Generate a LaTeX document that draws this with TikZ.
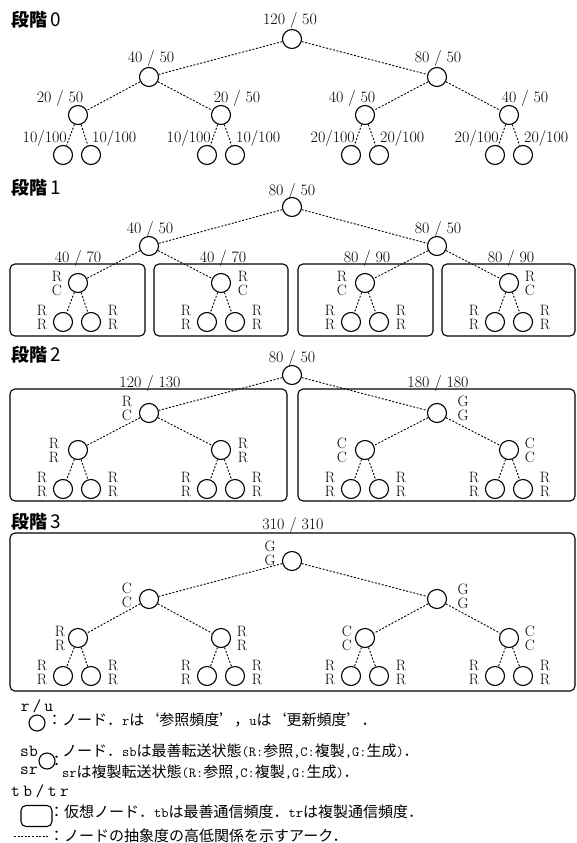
\documentclass[tikz,border=0pt]{standalone}
\usepackage{fontspec}
\newfontfamily\jp{Noto Sans CJK JP}
\newfontfamily\jpq{Noto Sans CJK JP}[CharacterWidth=Full]
\newcommand\tts[1]{{\ttfamily\fontsize{14}{14}\selectfont #1}}
\newcommand\myLq{{\jpq ‘}}
\newcommand\myRq{{\jpq ’}}
\newcommand\mytree[5]{%
\node[nd] (#1r) at (292,#2) {};
\node[nd] (#1a) at (149,#3) {};
\node[nd] (#1b) at (437,#3) {};
\node[nd] (#1aa) at (78,#4) {};
\node[nd] (#1ab) at (221,#4) {};
\node[nd] (#1ba) at (365,#4) {};
\node[nd] (#1bb) at (509,#4) {};
\node[nd] (#1aaa) at (63,#5) {};
\node[nd] (#1aab) at (91,#5) {};
\node[nd] (#1aba) at (207,#5) {};
\node[nd] (#1abb) at (235,#5) {};
\node[nd] (#1baa) at (351,#5) {};
\node[nd] (#1bab) at (379,#5) {};
\node[nd] (#1bba) at (495,#5) {};
\node[nd] (#1bbb) at (523,#5) {};
\foreach \p/\c in {r/a,r/b,a/aa,a/ab,b/ba,b/bb,aa/aaa,aa/aab,ab/aba,ab/abb,ba/baa,ba/bab,bb/bba,bb/bbb}{\draw[ar] (#1\p) -- (#1\c);}
}
\newcommand\leaflabs[3]{%
\foreach \x [count=\i] in {42,113,186,257,330,401,474,545}{\node[sl] (#1l\i) at (\x,#2) {#3};}
}
\newcommand\stitle[1]{{\bfseries 段階}\hspace{3pt}{\fontsize{19}{19}\selectfont #1}}
\begin{document}
\begin{tikzpicture}[x=1pt,y=-1pt,
  nd/.style={circle,draw,line width=1.1pt,minimum size=19pt,inner sep=0pt},
  ar/.style={line width=0.9pt,dash pattern=on 2pt off 1.6pt},
  vbox/.style={draw,line width=1.1pt,rounded corners=5pt,inner sep=0pt},
  num/.style={font=\fontsize{16}{16}\selectfont,inner sep=0pt},
  sl/.style={font=\fontsize{15}{14}\selectfont,align=center,inner sep=0pt},
  ttl/.style={font=\jp\fontsize{18}{18}\selectfont,anchor=west,inner sep=0pt},
  lg/.style={font=\jp\fontsize{15}{15}\selectfont,anchor=west,inner sep=0pt},
  ttl15/.style={font=\ttfamily\fontsize{17}{17}\selectfont,inner sep=0pt},
]
\useasboundingbox (0,0) rectangle (576,843);

% ---------------- Stage 0
\node[ttl] (t0) at (11,20) {\stitle{0}};
\mytree{s0}{39}{77}{115}{155}
\node[num] (s0nr) at (290,21) {120 / 50};
\node[num] (s0na) at (151,59) {40 / 50};
\node[num] (s0nb) at (438,59) {80 / 50};
\node[num] (s0naa) at (60,98) {20 / 50};
\node[num] (s0nab) at (237,98) {20 / 50};
\node[num] (s0nba) at (352,98) {40 / 50};
\node[num] (s0nbb) at (525,98) {40 / 50};
\node[num,anchor=east] (s0n1) at (67,138) {10/100};
\node[num,anchor=west] (s0n2) at (92,138) {10/100};
\node[num,anchor=east] (s0n3) at (211,138) {10/100};
\node[num,anchor=west] (s0n4) at (236,138) {10/100};
\node[num,anchor=east] (s0n5) at (355,138) {20/100};
\node[num,anchor=west] (s0n6) at (380,138) {20/100};
\node[num,anchor=east] (s0n7) at (499,138) {20/100};
\node[num,anchor=west] (s0n8) at (524,138) {20/100};

% ---------------- Stage 1
\node[ttl] (t1) at (11,188) {\stitle{1}};
\node[vbox,minimum width=135pt,minimum height=72pt] (s1b1) at (77.5,300) {};
\node[vbox,minimum width=134pt,minimum height=72pt] (s1b2) at (221,300) {};
\node[vbox,minimum width=135pt,minimum height=72pt] (s1b3) at (365.5,300) {};
\node[vbox,minimum width=133pt,minimum height=72pt] (s1b4) at (508.5,300) {};
\mytree{s1}{207}{246}{283}{322}
\node[num] (s1nr) at (292,191) {80 / 50};
\node[num] (s1na) at (150,229) {40 / 50};
\node[num] (s1nb) at (438,229) {80 / 50};
\node[num] (s1nb1) at (78,258) {40 / 70};
\node[num] (s1nb2) at (223,258) {40 / 70};
\node[num] (s1nb3) at (367,258) {80 / 90};
\node[num] (s1nb4) at (511,258) {80 / 90};
\node[sl] (s1saa) at (57,283) {R\\C};
\node[sl] (s1sab) at (243,283) {R\\C};
\node[sl] (s1sba) at (342,283) {R\\C};
\node[sl] (s1sbb) at (530,283) {R\\C};
\leaflabs{s1}{317}{R\\R}

% ---------------- Stage 2
\node[ttl] (t2) at (11,355) {\stitle{2}};
\node[vbox,minimum width=277pt,minimum height=112pt] (s2b1) at (148.5,445) {};
\node[vbox,minimum width=277pt,minimum height=112pt] (s2b2) at (436.5,445) {};
\mytree{s2}{375}{413}{450}{489}
\node[num] (s2nr) at (292,358) {80 / 50};
\node[num] (s2nb1) at (150,383) {120 / 130};
\node[num] (s2nb2) at (438,383) {180 / 180};
\node[sl] (s2sa) at (127,408) {R\\C};
\node[sl] (s2sb) at (463,408) {G\\G};
\node[sl] (s2saa) at (54,450) {R\\R};
\node[sl] (s2sab) at (243,450) {R\\R};
\node[sl] (s2sba) at (342,450) {C\\C};
\node[sl] (s2sbb) at (530,450) {C\\C};
\leaflabs{s2}{484}{R\\R}

% ---------------- Stage 3
\node[ttl] (t3) at (11,522) {\stitle{3}};
\node[vbox,minimum width=565pt,minimum height=158pt] (s3b) at (292.5,612) {};
\mytree{s3}{561}{599}{638}{676}
\node[num] (s3nb) at (293,525) {310 / 310};
\node[sl] (s3sr) at (270,553) {G\\G};
\node[sl] (s3sa) at (127,595) {C\\C};
\node[sl] (s3sb) at (463,596) {G\\G};
\node[sl] (s3saa) at (60,638) {R\\R};
\node[sl] (s3sab) at (242,638) {R\\R};
\node[sl] (s3sba) at (347,638) {C\\C};
\node[sl] (s3sbb) at (530,638) {C\\C};
\leaflabs{s3}{672}{R\\R}

% ---------------- Legend
\node[ttl15] (lru) at (37,706) {r\hspace{3pt}/\hspace{3pt}u};
\node[nd,minimum size=16pt] (lc1) at (37,723) {};
\node[lg] (lt1) at (47,720) {：ノード．\tts{r}は\myLq 参照頻度\myRq ，\tts{u}は\myLq 更新頻度\myRq ．};

\node[ttl15] (lsb) at (29,751) {sb};
\node[ttl15] (lsr) at (29,771) {sr};
\node[nd,minimum size=16pt] (lc2) at (47,761) {};
\node[lg] (lcol2) at (49,761) {：};
\node[lg] (lt2) at (62,751) {ノード．\tts{sb}は最善転送状態\tts{(R:}参照\tts{,C:}複製\tts{,G:}生成\tts{)}．};
\node[lg] (lt3) at (62,772) {\tts{sr}は複製転送状態\tts{(R:}参照\tts{,C:}複製\tts{,G:}生成\tts{)}．};

\node[ttl15] (ltb) at (40,791) {t\hspace{3.5pt}b\hspace{3.5pt}/\hspace{3.5pt}t\hspace{3.5pt}r};
\node[vbox,minimum width=31pt,minimum height=21pt] (lbox) at (36.5,816) {};
\node[lg] (lt4) at (49,812) {：仮想ノード．\tts{tb}は最善通信頻度．\tts{tr}は複製通信頻度．};

\coordinate (lds) at (14,836);
\coordinate (lde) at (48,836);
\draw[ar] (lds) -- (lde);
\node[lg] (lt5) at (49,836) {：ノードの抽象度の高低関係を示すアーク．};
\end{tikzpicture}
\end{document}
